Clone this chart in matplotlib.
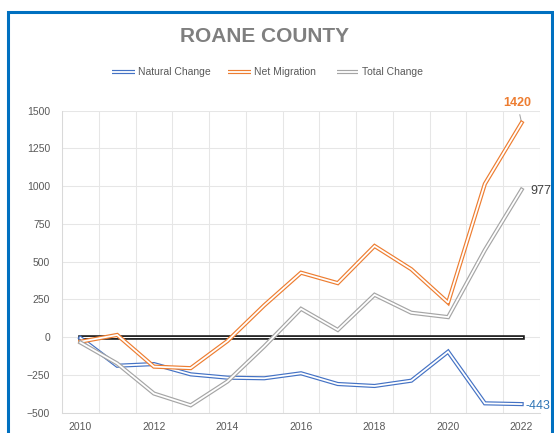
import numpy as np
from matplotlib import pyplot as plt
from matplotlib.lines import Line2D
from matplotlib.patches import Rectangle

# データ
years = [2010, 2011, 2012, 2013, 2014, 2015, 2016, 2017, 2018, 2019, 2020, 2021, 2022]
natural = [-5, -189, -178, -246, -268, -272, -239, -310, -323, -288, -96, -438, -443]
net_mig = [-30, 15, -195, -205, -25, 211, 427, 358, 604, 450, 229, 1015, 1420]
total = [-35, -174, -373, -451, -293, -61, 188, 48, 281, 162, 133, 577, 977]
zero_line = [0] * len(years)

series_names = ['Natural Change', 'Net Migration', 'Total Change']
series_colors = ['#4472C4', '#ED7D31', '#A5A5A5']

plt.rcParams['font.family'] = ['Liberation Sans', 'DejaVu Sans']

W, H = 554, 433
fig = plt.figure(figsize=(W / 100, H / 100), dpi=100)
ax = fig.add_axes([62 / W, 1 - 412.7 / H, (540 - 62) / W, (412.7 - 110.7) / H])

grid_c = '#E6E6E6'


def double_line(x, y, color, outer=3.0, inner=1.3, z=2):
    ax.plot(x, y, color=color, lw=outer, solid_joinstyle='miter', zorder=z)
    ax.plot(x, y, color='white', lw=inner, solid_joinstyle='miter', zorder=z + 0.1)


# 0 の黒い二重線
double_line(years, zero_line, '#1A1A1A', outer=3.3, inner=0.8, z=2)

for i, (vals, c) in enumerate(zip([natural, net_mig, total], series_colors)):
    double_line(years, vals, c, z=3 + i)

ax.set_xlim(2009.5, 2022.5)
ax.set_ylim(-500, 1500)
ax.set_yticks(np.arange(-500, 1501, 250))
ax.set_xticks(years[::2])
ax.set_xticks(np.arange(2009.5, 2023, 1), minor=True)
ax.grid(False)
ax.grid(True, which='minor', axis='x', color=grid_c, lw=0.75)
ax.grid(True, which='major', axis='y', color=grid_c, lw=0.75)
ax.set_axisbelow(True)
ax.tick_params(which='both', length=0, labelsize=7.5, colors='#595959')
ax.tick_params(axis='y', pad=8.5)
ax.tick_params(axis='x', pad=6.5)
for s in ax.spines.values():
    s.set_color('#D9D9D9')
    s.set_linewidth(0.75)
ax.spines['top'].set_visible(False)
ax.spines['right'].set_visible(False)

# 最終年のラベル
ax.annotate('1420', xy=(2022, 1420), xytext=(2021.88, 1550), ha='center', va='center',
            fontsize=9, fontweight='bold', color='#ED7D31', annotation_clip=False,
            arrowprops=dict(arrowstyle='-', color='#A5A5A5', lw=0.75, shrinkA=2, shrinkB=0))
ax.annotate('977', xy=(2022, 977), xytext=(9, -1), textcoords='offset pixels',
            ha='left', va='center', fontsize=9, color='#404040', annotation_clip=False)
ax.annotate('-443', xy=(2022, -443), xytext=(4, -1.5), textcoords='offset pixels',
            ha='left', va='center', fontsize=9, color='#2E75B6', annotation_clip=False)

# タイトル
fig.text(265 / W, 1 - 37 / H, 'ROANE COUNTY', ha='center', va='center',
         fontsize=15, fontweight='bold', color='#7F7F7F')

# 凡例（二重線、手で配置）
leg_y = 1 - 72 / H
leg_x = [(112, 135, 138), (228, 251, 254), (337, 358, 362)]
for (x0, x1, xt), name, c in zip(leg_x, series_names, series_colors):
    for lw, col in [(3.0, c), (1.3, 'white')]:
        fig.add_artist(Line2D([x0 / W, x1 / W], [leg_y, leg_y], color=col, lw=lw,
                              solid_capstyle='butt', transform=fig.transFigure))
    fig.text(xt / W, leg_y, name, ha='left', va='center', fontsize=7.5, color='#595959')

# 青い枠線
fig.patches.append(Rectangle((7.5 / W, -0.2), (551.5 - 7.5) / W, 1.2 - 11.5 / H,
                             transform=fig.transFigure, fill=False,
                             edgecolor='#0070C0', lw=2.2))

fig.savefig('out.png', dpi=100)
